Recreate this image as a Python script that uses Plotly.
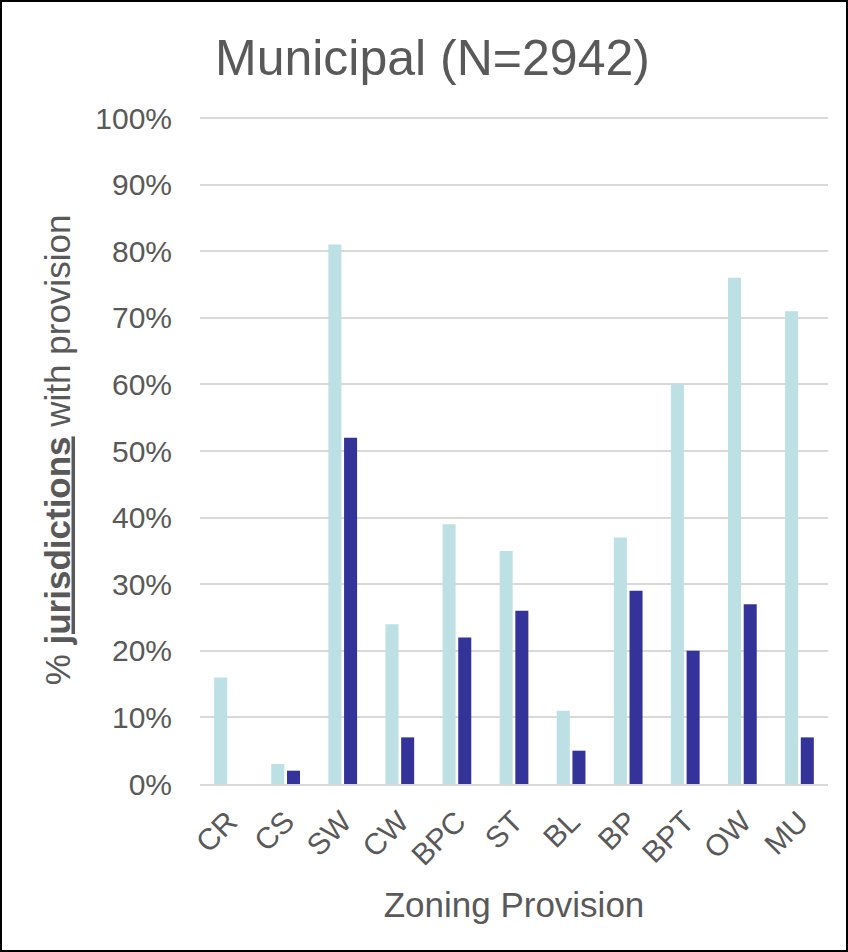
import plotly.graph_objects as go

# Share of municipal jurisdictions with each zoning provision
provisions = ["CR", "CS", "SW", "CW", "BPC", "ST", "BL", "BP", "BPT", "OW", "MU"]
series_a = [16, 3, 81, 24, 39, 35, 11, 37, 60, 76, 71]
series_b = [0, 2, 52, 7, 22, 26, 5, 29, 20, 27, 7]
y_ticks = list(range(0, 101, 10))
y_tick_text = [f"{v}%" for v in y_ticks]

TEXT = "#595959"
FONT = "Liberation Sans, Arial, sans-serif"

W, H = 848, 952
L, R, T, B = 200, 20, 116, 168

fig = go.Figure()
fig.add_bar(x=provisions, y=series_a, marker_color="#BCE0E3",
            marker_line_width=0, name="A")
fig.add_bar(x=provisions, y=series_b, marker_color="#343399",
            marker_line_width=0, name="B")

pw = W - L - R
ph = H - T - B


def px_x(p):
    return (p - L) / pw


def px_y(p):
    return (H - B - p) / ph


fig.update_layout(
    width=W, height=H,
    margin=dict(l=L, r=R, t=T, b=B),
    paper_bgcolor="white", plot_bgcolor="white",
    barmode="group", bargap=0.45, bargroupgap=0.17,
    showlegend=False,
    font=dict(family=FONT, color=TEXT),
    title=dict(text="Municipal (N=2942)", x=0.51, xanchor="center",
               y=1 - 57 / H, yanchor="middle", yref="container",
               font=dict(size=50, color=TEXT, family=FONT)),
    xaxis=dict(
        tickangle=-45, tickfont=dict(size=30, color=TEXT),
        showgrid=False, showline=True, linecolor="#D9D9D9", linewidth=2,
        ticks="", ticklabelstandoff=6,
        title=dict(text="Zoning Provision", font=dict(size=35, color=TEXT),
                   standoff=22),
    ),
    yaxis=dict(
        range=[0, 100.3], tickvals=y_ticks, ticktext=y_tick_text,
        tickfont=dict(size=30, color=TEXT),
        showgrid=True, gridcolor="#D9D9D9", gridwidth=1.5,
        zeroline=False, showline=False, ticks="", ticklabelstandoff=27,
        title=dict(text="% <b><u>jurisdictions</u></b> with provision",
                   font=dict(size=35, color=TEXT), standoff=14),
    ),
    shapes=[dict(type="rect", xref="paper", yref="paper",
                 x0=px_x(1), x1=px_x(W - 1), y0=px_y(H - 1), y1=px_y(1),
                 line=dict(color="black", width=2), layer="above")],
)

fig.write_html("out.html")
